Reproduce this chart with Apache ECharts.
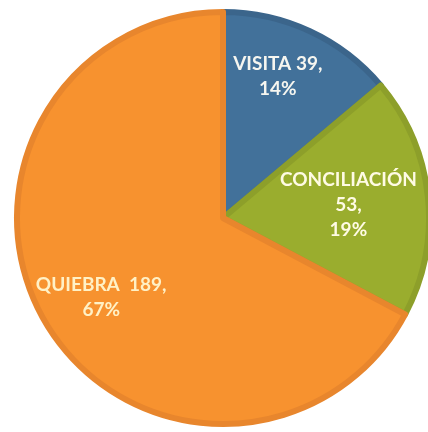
<!DOCTYPE html>
<html>
<head>
<meta charset="utf-8">
<script src="https://cdn.jsdelivr.net/npm/echarts@6/dist/echarts.min.js"></script>
<style>
html,body{margin:0;padding:0;background:#ffffff;}
#chart{width:428px;height:432px;}
</style>
</head>
<body>
<div id="chart"></div>
<script>
var categories = ['VISITA', 'CONCILIACIÓN', 'QUIEBRA'];
var values = [39, 53, 189];
var percents = ['14%', '19%', '67%'];
var fillColors = ['#42719a', '#9aad2e', '#f7922f'];
var rimColors = ['#3b658b', '#8d9f2a', '#e8862d'];
var labelColors = ['#f6f6f0', '#fffbe4', '#fff1c6'];
var labelOffsets = [[10, -46], [20, -2], [-31, 25]];

var data = categories.map(function (c, i) {
  return {
    name: c,
    value: values[i],
    itemStyle: { color: fillColors[i], borderColor: rimColors[i], borderWidth: 6 },
    label: { color: labelColors[i] }
  };
});

function fmt(p) {
  var i = p.dataIndex;
  if (i === 0) return 'VISITA ' + values[0] + ',\n' + percents[0];
  if (i === 1) return 'CONCILIACIÓN\n' + values[1] + ',\n' + percents[1];
  return 'QUIEBRA  ' + values[2] + ',\n' + percents[2];
}

var chart = echarts.init(document.getElementById('chart'), null, { renderer: 'canvas' });
chart.setOption({
  backgroundColor: '#ffffff',
  animation: false,
  series: [{
    type: 'pie',
    center: [223, 218],
    radius: [0, 206],
    startAngle: 90,
    clockwise: true,
    data: data,
    label: {
      show: true,
      position: 'inside',
      formatter: fmt,
      fontFamily: 'Lato',
      fontWeight: 'bold',
      fontSize: 19,
      lineHeight: 25,
      align: 'center'
    },
    labelLine: { show: false },
    labelLayout: function (p) {
      var o = labelOffsets[p.dataIndex];
      return { dx: o[0], dy: o[1] };
    },
    emphasis: { disabled: true }
  }]
});
</script>
</body>
</html>
